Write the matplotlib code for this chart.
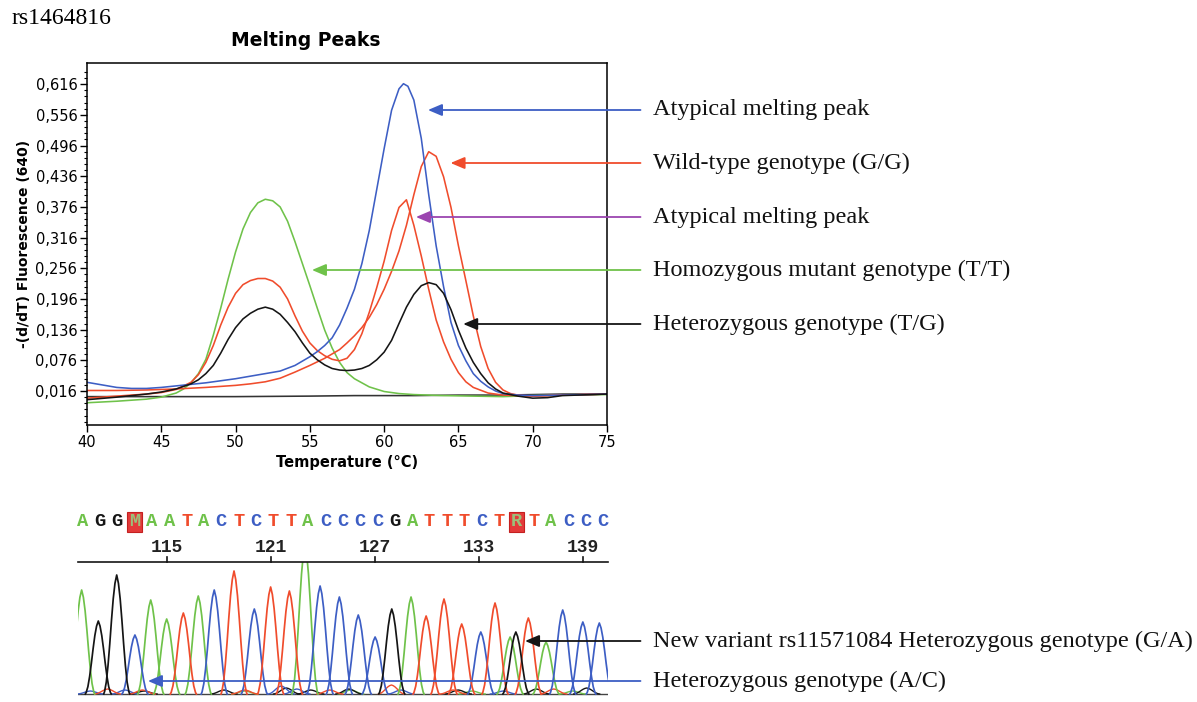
import numpy as np
import matplotlib.pyplot as plt
from matplotlib.ticker import FixedLocator

W, H = 1197, 702

# ---- melting peaks: -(d/dT) fluorescence (640) vs temperature ----
blue_t = [40, 41, 42, 43, 44, 45, 46, 47, 48, 49, 50, 51, 52, 53, 54, 55, 55.5, 56, 56.5, 57,
          57.5, 58, 58.5, 59, 59.5, 60, 60.5, 61, 61.3, 61.6, 62, 62.5, 63, 63.5, 64, 64.5, 65,
          65.5, 66, 66.5, 67, 67.5, 68, 69, 70, 72, 75]
blue_v = [0.033, 0.028, 0.023, 0.021, 0.021, 0.023, 0.026, 0.029, 0.032, 0.036, 0.040, 0.045,
          0.050, 0.055, 0.066, 0.083, 0.093, 0.105, 0.120, 0.145, 0.178, 0.215, 0.265, 0.330,
          0.410, 0.490, 0.565, 0.607, 0.617, 0.612, 0.585, 0.510, 0.400, 0.300, 0.220, 0.150,
          0.105, 0.075, 0.050, 0.035, 0.024, 0.016, 0.011, 0.008, 0.007, 0.008, 0.010]

green_t = [40, 42, 44, 45, 46, 46.5, 47, 47.5, 48, 48.5, 49, 49.5, 50, 50.5, 51, 51.5, 52, 52.5,
           53, 53.5, 54, 54.5, 55, 55.5, 56, 56.5, 57, 57.5, 58, 59, 60, 61, 62, 64, 66, 68, 70,
           72, 75]
green_v = [-0.007, -0.004, 0.000, 0.004, 0.012, 0.020, 0.032, 0.050, 0.078, 0.125, 0.178, 0.235,
           0.288, 0.333, 0.365, 0.384, 0.391, 0.388, 0.376, 0.348, 0.308, 0.265, 0.222, 0.178,
           0.135, 0.100, 0.072, 0.052, 0.040, 0.024, 0.015, 0.011, 0.009, 0.007, 0.006, 0.005,
           0.007, 0.008, 0.009]

red_wt_t = [40, 42, 44, 46, 48, 50, 51, 52, 53, 54, 55, 56, 57, 57.5, 58, 58.5, 59, 59.5, 60,
            60.5, 61, 61.5, 62, 62.5, 63, 63.5, 64, 64.5, 65, 65.5, 66, 66.5, 67, 67.5, 68, 68.5,
            69, 70, 72, 75]
red_wt_v = [0.017, 0.017, 0.018, 0.020, 0.023, 0.027, 0.030, 0.034, 0.041, 0.053, 0.066, 0.080,
            0.097, 0.110, 0.124, 0.140, 0.160, 0.185, 0.215, 0.250, 0.290, 0.340, 0.400, 0.455,
            0.484, 0.475, 0.435, 0.375, 0.300, 0.232, 0.163, 0.103, 0.060, 0.033, 0.018, 0.011,
            0.008, 0.006, 0.008, 0.010]

red_at_t = [40, 42, 44, 45, 46, 47, 47.5, 48, 48.5, 49, 49.5, 50, 50.5, 51, 51.5, 52, 52.5, 53,
            53.5, 54, 54.5, 55, 55.5, 56, 56.5, 57, 57.5, 58, 58.5, 59, 59.5, 60, 60.5, 61, 61.5,
            62, 62.5, 63, 63.5, 64, 64.5, 65, 65.5, 66, 67, 68, 70, 72, 75]
red_at_v = [0.002, 0.006, 0.010, 0.013, 0.019, 0.033, 0.048, 0.072, 0.105, 0.145, 0.180, 0.207,
            0.224, 0.232, 0.236, 0.236, 0.231, 0.219, 0.196, 0.163, 0.133, 0.110, 0.095, 0.085,
            0.078, 0.075, 0.080, 0.097, 0.128, 0.170, 0.218, 0.270, 0.330, 0.375, 0.390, 0.340,
            0.280, 0.215, 0.155, 0.112, 0.078, 0.052, 0.034, 0.023, 0.012, 0.008, 0.006, 0.008,
            0.010]

black_t = [40, 42, 44, 45, 46, 47, 47.5, 48, 48.5, 49, 49.5, 50, 50.5, 51, 51.5, 52, 52.5, 53,
           53.5, 54, 54.5, 55, 55.5, 56, 56.5, 57, 57.5, 58, 58.5, 59, 59.5, 60, 60.5, 61, 61.5,
           62, 62.5, 63, 63.5, 64, 64.5, 65, 65.5, 66, 66.5, 67, 67.5, 68, 69, 70, 71, 72, 75]
black_v = [-0.001, 0.004, 0.010, 0.014, 0.020, 0.030, 0.038, 0.050, 0.066, 0.090, 0.117, 0.140,
           0.157, 0.168, 0.176, 0.180, 0.176, 0.166, 0.150, 0.132, 0.110, 0.090, 0.077, 0.067,
           0.060, 0.057, 0.056, 0.057, 0.060, 0.066, 0.077, 0.092, 0.115, 0.148, 0.180, 0.205,
           0.222, 0.228, 0.224, 0.207, 0.175, 0.135, 0.100, 0.072, 0.050, 0.032, 0.020, 0.012,
           0.006, 0.002, 0.003, 0.007, 0.010]

ctrl_t = [40, 45, 50, 55, 58, 60, 62, 65, 68, 70, 72, 75]
ctrl_v = [0.005, 0.005, 0.005, 0.006, 0.007, 0.007, 0.007, 0.008, 0.008, 0.009, 0.010, 0.010]

y_ticks = [0.016, 0.076, 0.136, 0.196, 0.256, 0.316, 0.376, 0.436, 0.496, 0.556, 0.616]
y_tick_labels = ['0,016', '0,076', '0,136', '0,196', '0,256', '0,316', '0,376', '0,436',
                 '0,496', '0,556', '0,616']
x_ticks = [40, 45, 50, 55, 60, 65, 70, 75]

# ---- sequencing chromatogram (base position, peak height) ----
sequence = 'AGGMAATACTCTTACCCCGATTTCTRTACCC'
seq_start = 110
ruler_ticks = [115, 121, 127, 133, 139]

peaks_A_pos = [110.10, 114.08, 115.00, 116.82, 122.97, 129.08, 134.79, 136.86]
peaks_A_h = [104, 94, 75, 98, 150, 97, 57, 52]
peaks_G_pos = [111.06, 112.12, 127.97, 135.12]
peaks_G_h = [73, 119, 85, 62]
peaks_C_pos = [113.17, 117.74, 120.05, 123.84, 124.95, 126.04, 127.01, 133.10, 137.82, 138.98, 139.93]
peaks_C_h = [59, 104, 85, 108, 97, 79, 57, 62, 84, 72, 71]
peaks_T_pos = [115.96, 118.88, 120.99, 122.07, 129.95, 130.98, 132.00, 133.92, 135.84]
peaks_T_h = [81, 123, 107, 103, 78, 95, 70, 91, 76]

noise_T_pos = [111.6, 113.6, 119.5, 124.4, 127.95, 131.5, 137.3]
noise_T_h = [5, 4, 4, 4, 9, 4, 5]
noise_C_pos = [110.6, 112.6, 121.6, 122.5, 128.5, 134.4]
noise_C_h = [3, 4, 8, 5, 4, 3]
noise_G_pos = [113.7, 118.3, 121.9, 123.3, 125.5, 131.8, 136.3, 139.2]
noise_G_h = [3, 4, 6, 4, 5, 4, 5, 6]
noise_A_pos = [119.5, 125.6, 132.6, 138.4]
noise_A_h = [3, 4, 3, 3]

# shape of a single trace peak (offset in bases, fraction of height)
peak_offsets = [-0.75, -0.7, -0.6, -0.5, -0.4, -0.3, -0.2, -0.1, 0.0,
                0.1, 0.2, 0.3, 0.4, 0.5, 0.6, 0.7, 0.75]
peak_profile = [0.0, 0.02, 0.10, 0.24, 0.42, 0.62, 0.80, 0.93, 1.0,
                0.93, 0.80, 0.62, 0.42, 0.24, 0.10, 0.02, 0.0]

BLUE = '#3d5ec4'
RED = '#f04c2c'
GREEN = '#6fc24a'
BLACK = '#151515'
PURPLE = '#9b45b0'
base_colors = {'A': GREEN, 'G': BLACK, 'C': BLUE, 'T': RED}

SERIF = 'Liberation Serif'


def fx(px):
    return px / W


def fy(py):
    return 1 - py / H


fig = plt.figure(figsize=(W / 100, H / 100), dpi=100)

# ---------------- melting peaks ----------------
ax = fig.add_axes([fx(87), fy(425), (607 - 87) / W, (425 - 63) / H])
lw = 1.15
ax.plot(ctrl_t, ctrl_v, color='#333333', lw=lw)
ax.plot(green_t, green_v, color=GREEN, lw=lw)
ax.plot(red_wt_t, red_wt_v, color=RED, lw=lw)
ax.plot(red_at_t, red_at_v, color=RED, lw=lw)
ax.plot(blue_t, blue_v, color=BLUE, lw=lw)
ax.plot(black_t, black_v, color=BLACK, lw=lw)

ax.set_xlim(40, 75)
ax.set_ylim(-0.0505, 0.6575)
ax.yaxis.set_major_locator(FixedLocator(y_ticks))
ax.set_yticklabels(y_tick_labels)
ax.yaxis.set_minor_locator(FixedLocator(np.arange(-0.044, 0.65, 0.012)))
ax.set_xticks(x_ticks)
ax.tick_params(axis='both', which='major', direction='out', length=5, width=1,
               labelsize=10.5, pad=2)
ax.tick_params(axis='y', which='minor', direction='out', length=2.5, width=0.8)
for s in ax.spines.values():
    s.set_linewidth(1.1)
ax.set_xlabel('Temperature (°C)', fontsize=10.5, fontweight='bold', labelpad=4)
ax.set_ylabel('-(d/dT) Fluorescence (640)', fontsize=10, fontweight='bold', labelpad=3)

fig.text(fx(306), fy(40), 'Melting Peaks', ha='center', va='center',
         fontsize=13.5, fontweight='heavy')
fig.text(fx(12), fy(19), 'rs1464816', ha='left', va='center', fontsize=17, family=SERIF)

arrow_style = '-|>,head_length=0.85,head_width=0.36'
# arrow tip: temperature (data) and row height (figure pixels from top)
notes = [
    ('Atypical melting peak', 62.95, 110, BLUE),
    ('Wild-type genotype (G/G)', 64.47, 163, RED),
    ('Atypical melting peak', 62.14, 217, PURPLE),
    ('Homozygous mutant genotype (T/T)', 55.14, 270, GREEN),
    ('Heterozygous genotype (T/G)', 65.32, 324, BLACK),
]
for label, xt, ty, c in notes:
    ax.annotate(label, xy=(xt, H - ty), xycoords=('data', 'figure pixels'),
                xytext=(653, H - ty), textcoords='figure pixels', ha='left', va='center',
                fontsize=17.5, family=SERIF, color='#111111',
                arrowprops=dict(arrowstyle=arrow_style, mutation_scale=10, color=c,
                                lw=1.3, shrinkA=7, shrinkB=0, relpos=(0, 0.5)),
                annotation_clip=False)

# ---------------- chromatogram ----------------
cx = fig.add_axes([fx(78), fy(698), (608 - 78) / W, (698 - 562) / H])
cx.set_xlim(109.89, 140.43)
cx.set_ylim(-4, 132)
cx.axis('off')

cx.plot([109.89, 140.43], [0, 0], color='#444444', lw=1.0, zorder=1)


def draw_peaks(pos, heights, color, lw_=1.25):
    for p, h in zip(pos, heights):
        xs = [p + o for o in peak_offsets]
        ys = [h * f for f in peak_profile]
        cx.plot(xs, ys, color=color, lw=lw_, zorder=2)


draw_peaks(noise_A_pos, noise_A_h, GREEN, 1.0)
draw_peaks(noise_G_pos, noise_G_h, BLACK, 1.0)
draw_peaks(noise_C_pos, noise_C_h, BLUE, 1.0)
draw_peaks(noise_T_pos, noise_T_h, RED, 1.0)
draw_peaks(peaks_A_pos, peaks_A_h, GREEN)
draw_peaks(peaks_C_pos, peaks_C_h, BLUE)
draw_peaks(peaks_T_pos, peaks_T_h, RED)
draw_peaks(peaks_G_pos, peaks_G_h, BLACK)

# ruler with position numbers
cx.plot([109.89, 140.43], [132, 132], color=BLACK, lw=1.2, clip_on=False)
for t in ruler_ticks:
    cx.plot([t, t], [132, 137], color=BLACK, lw=1.2, clip_on=False)
    cx.text(t, 147, str(t), ha='center', va='center', fontsize=13,
            family='Liberation Mono', fontweight='bold', color='#222222')

# base calls
for i, b in enumerate(sequence):
    xb = seq_start + i + 0.15
    if b in base_colors:
        cx.text(xb, 172, b, ha='center', va='center', fontsize=13.5,
                family='Liberation Mono', fontweight='bold', color=base_colors[b])
    else:
        cx.text(xb, 172, b, ha='center', va='center', fontsize=13.5,
                family='Liberation Mono', fontweight='bold', color='#9cc07a',
                bbox=dict(boxstyle='square,pad=0.1', facecolor='#e33a3a',
                          edgecolor='#c42020', lw=0.8))

chrom_notes = [
    ('New variant rs11571084 Heterozygous genotype (G/A)', 135.65, 641, BLACK),
    ('Heterozygous genotype (A/C)', 113.92, 681, BLUE),
]
for label, xt, ty, c in chrom_notes:
    cx.annotate(label, xy=(xt, H - ty), xycoords=('data', 'figure pixels'),
                xytext=(653, H - ty), textcoords='figure pixels', ha='left', va='center',
                fontsize=17.5, family=SERIF, color='#111111',
                arrowprops=dict(arrowstyle=arrow_style, mutation_scale=10, color=c,
                                lw=1.3, shrinkA=7, shrinkB=0, relpos=(0, 0.5)),
                annotation_clip=False)

fig.savefig('out.png', dpi=100)
